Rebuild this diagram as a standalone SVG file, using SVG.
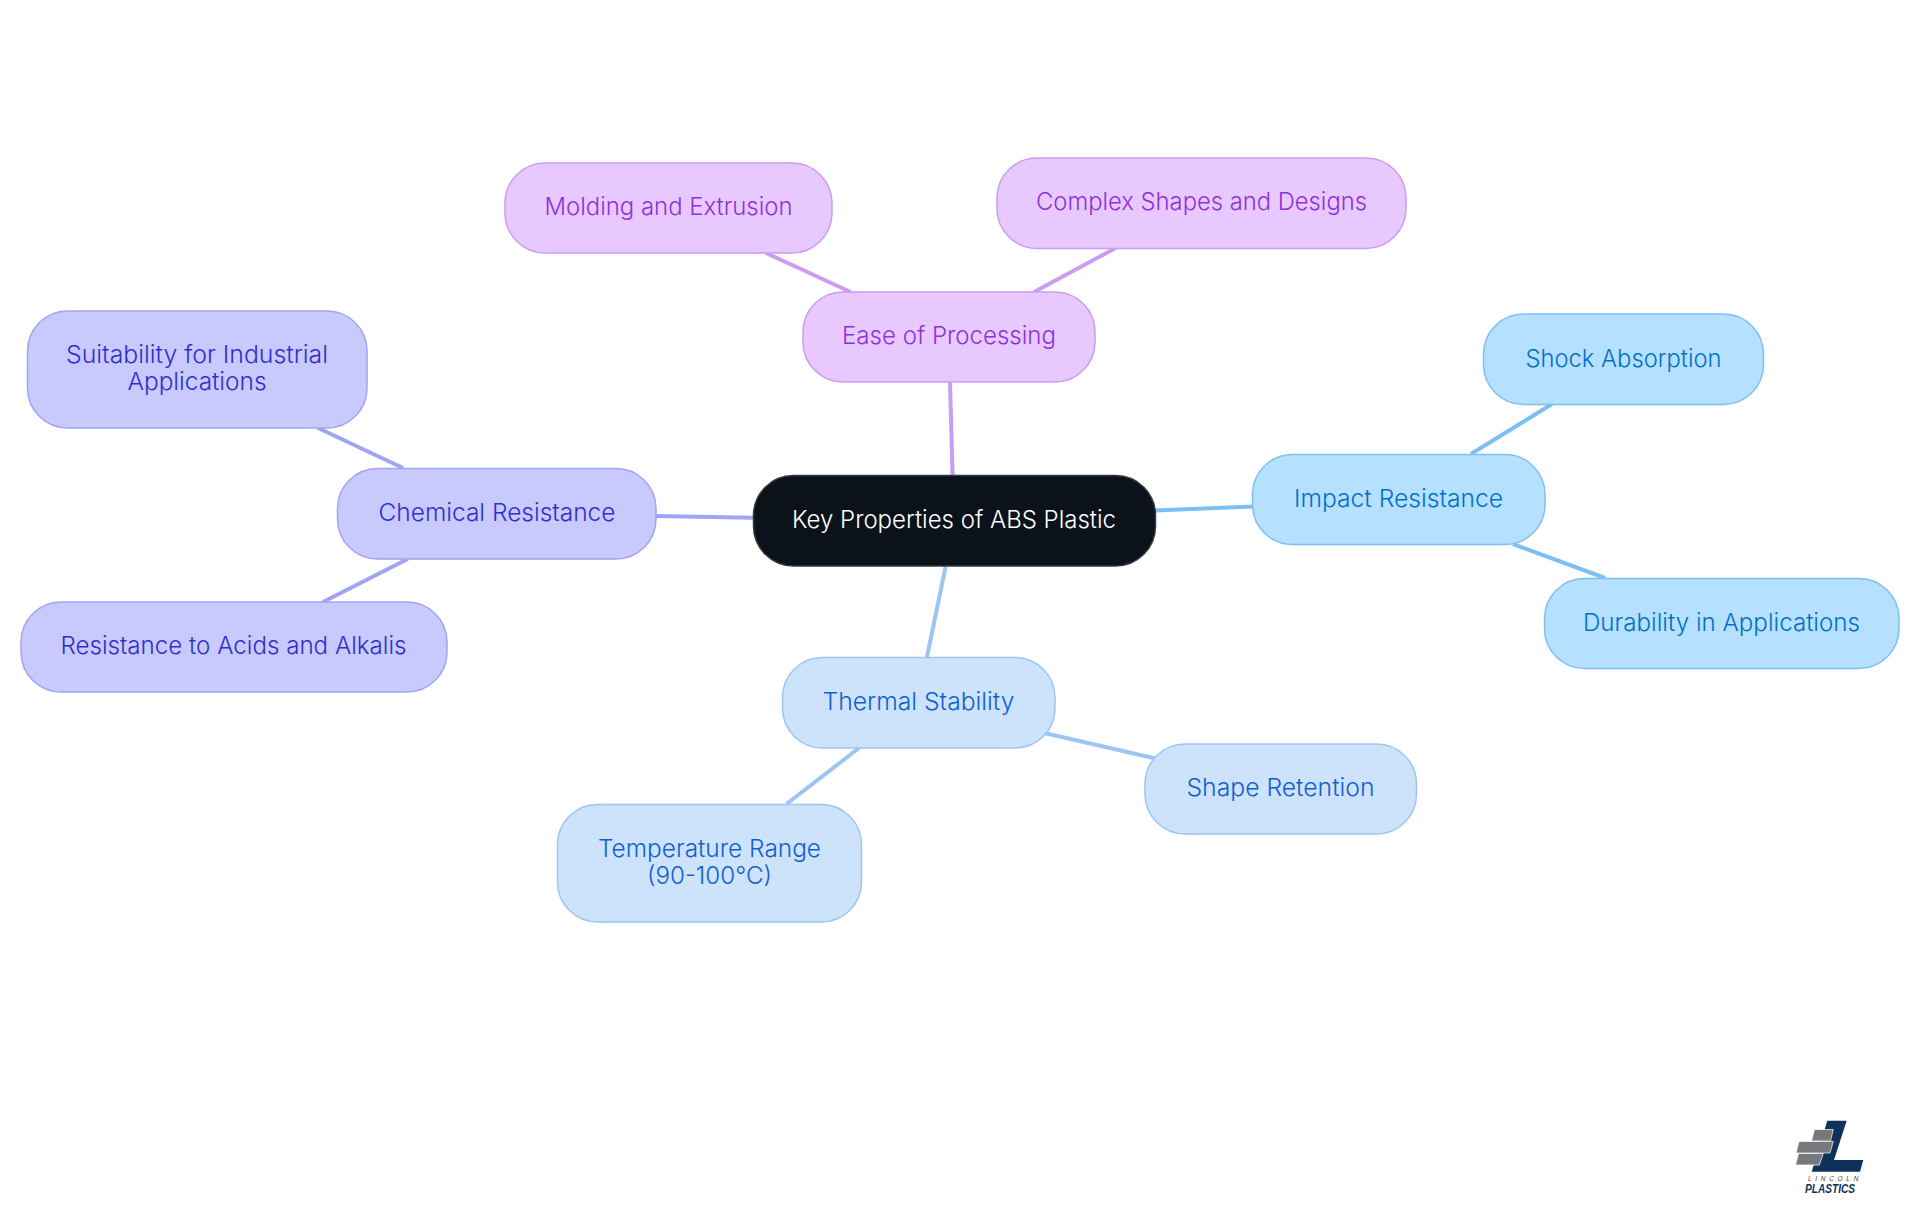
<svg xmlns="http://www.w3.org/2000/svg" width="1920" height="1215" viewBox="0 0 1920 1215">
<style>
text{font-family:"Inter","Noto Sans","Liberation Sans",sans-serif;font-size:24px;font-weight:350;text-anchor:middle}
.n{stroke-width:1.5}
.c line{stroke-width:4;fill:none}
.root rect{fill:#0b121a;stroke:#34393e}.root text{fill:#fff}
.sky rect{fill:#b5e0ff;stroke:#7cc0f3}.sky text{fill:#0070c9}
.blue rect{fill:#cde3fc;stroke:#9dc5f3}.blue text{fill:#0f60cf}
.pur rect{fill:#e8c9ff;stroke:#cb9cf3}.pur text{fill:#9030db}
.ind rect{fill:#c8c9fc;stroke:#a0a4f4}.ind text{fill:#2f2fd0}
.l-sky{stroke:#7cc0f3}.l-blue{stroke:#9dc5f3}.l-pur{stroke:#cb9cf3}.l-ind{stroke:#a0a4f4}
.logo text{font-family:"Liberation Sans",sans-serif;font-style:italic;text-anchor:start}
</style>
<rect width="1920" height="1215" fill="#fff"/>
<g id="connectors" class="c">
<line class="l-sky" x1="1155" y1="510.500" x2="1253" y2="506.500"/>
<line class="l-sky" x1="1552" y1="404" x2="1471" y2="454"/>
<line class="l-sky" x1="1513" y1="544" x2="1605" y2="578"/>
<line class="l-blue" x1="945.700" y1="566" x2="927" y2="657"/>
<line class="l-blue" x1="1040" y1="732" x2="1155.500" y2="758.500"/>
<line class="l-blue" x1="859" y1="748" x2="786.500" y2="804"/>
<line class="l-pur" x1="950" y1="382" x2="952.600" y2="475"/>
<line class="l-pur" x1="766" y1="253" x2="850.600" y2="292"/>
<line class="l-pur" x1="1115.700" y1="248" x2="1034" y2="292"/>
<line class="l-ind" x1="656" y1="516" x2="753" y2="517.700"/>
<line class="l-ind" x1="318" y1="428" x2="403" y2="468"/>
<line class="l-ind" x1="407.600" y1="559" x2="323" y2="602"/>
</g>
<g id="root" class="root"><rect class="n" x="753.500" y="475.500" width="402" height="90.500" rx="40"/><text x="954" y="528" textLength="324" lengthAdjust="spacingAndGlyphs">Key Properties of ABS Plastic</text></g>
<g id="impact" class="sky"><rect class="n" x="1252.500" y="454.500" width="292.500" height="90" rx="40"/><text x="1398.500" y="507" textLength="209" lengthAdjust="spacingAndGlyphs">Impact Resistance</text></g>
<g id="shock" class="sky"><rect class="n" x="1483.500" y="314" width="280" height="90.500" rx="40"/><text x="1623.500" y="367" textLength="196" lengthAdjust="spacingAndGlyphs">Shock Absorption</text></g>
<g id="durability" class="sky"><rect class="n" x="1544.500" y="578.500" width="354.500" height="90" rx="40"/><text x="1721.500" y="631" textLength="277" lengthAdjust="spacingAndGlyphs">Durability in Applications</text></g>
<g id="thermal" class="blue"><rect class="n" x="782.500" y="657.500" width="272.500" height="90.500" rx="40"/><text x="918.500" y="710" textLength="192" lengthAdjust="spacingAndGlyphs">Thermal Stability</text></g>
<g id="shape" class="blue"><rect class="n" x="1145" y="744" width="271.500" height="90" rx="40"/><text x="1280.500" y="796" textLength="188" lengthAdjust="spacingAndGlyphs">Shape Retention</text></g>
<g id="temperature" class="blue"><rect class="n" x="557.500" y="804.500" width="304" height="117.500" rx="40"/><text x="709.500" y="857" textLength="223" lengthAdjust="spacingAndGlyphs">Temperature Range</text><text x="709.500" y="884" textLength="125" lengthAdjust="spacingAndGlyphs">(90-100°C)</text></g>
<g id="ease" class="pur"><rect class="n" x="803" y="292" width="292" height="90" rx="40"/><text x="949" y="344" textLength="214" lengthAdjust="spacingAndGlyphs">Ease of Processing</text></g>
<g id="molding" class="pur"><rect class="n" x="505" y="163" width="327" height="90" rx="40"/><text x="668.500" y="215" textLength="248" lengthAdjust="spacingAndGlyphs">Molding and Extrusion</text></g>
<g id="complex" class="pur"><rect class="n" x="997" y="158" width="409" height="90.500" rx="40"/><text x="1201.500" y="210" textLength="331" lengthAdjust="spacingAndGlyphs">Complex Shapes and Designs</text></g>
<g id="chemical" class="ind"><rect class="n" x="337.500" y="468.500" width="318.500" height="90.500" rx="40"/><text x="497" y="521" textLength="237" lengthAdjust="spacingAndGlyphs">Chemical Resistance</text></g>
<g id="suitability" class="ind"><rect class="n" x="27.500" y="311" width="339.500" height="117" rx="40"/><text x="197" y="363" textLength="262" lengthAdjust="spacingAndGlyphs">Suitability for Industrial</text><text x="197" y="390" textLength="139" lengthAdjust="spacingAndGlyphs">Applications</text></g>
<g id="acids" class="ind"><rect class="n" x="21" y="602" width="426" height="90" rx="40"/><text x="233.500" y="654" textLength="346" lengthAdjust="spacingAndGlyphs">Resistance to Acids and Alkalis</text></g>
<g id="logo" class="logo">
<polygon points="1827.300,1120.700 1846.700,1120.700 1834,1160 1863.300,1160 1860,1171.700 1811.700,1171.700" fill="#0e3259"/>
<g fill="#77787b" stroke="#fff" stroke-width="0.700">
<polygon points="1814.500,1129.500 1833.300,1129.500 1830.500,1141 1811.500,1141"/>
<polygon points="1799,1141.500 1833.300,1141.500 1830,1153 1796,1153"/>
<polygon points="1798.500,1153.500 1823.300,1153.500 1819.300,1165 1795.500,1165"/>
</g>
<text x="1808" y="1181" letter-spacing="3.700" fill="#3d4248" style="font-size:6.500px;font-weight:400">LINCOLN</text>
<text x="1805" y="1192.500" textLength="50" lengthAdjust="spacingAndGlyphs" fill="#0e3259" style="font-size:12px;font-weight:700">PLASTICS</text>
</g>
</svg>
